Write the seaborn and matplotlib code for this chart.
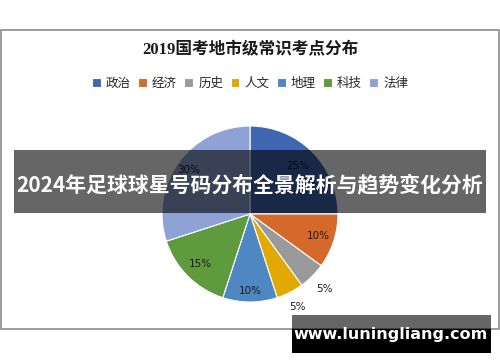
import matplotlib
matplotlib.use('Agg')
import matplotlib.pyplot as plt
import seaborn as sns
from matplotlib.patches import Rectangle

# chart data
categories = ['政治', '经济', '历史', '人文', '地理', '科技', '法律']
shares = [25, 10, 5, 5, 10, 15, 30]
slice_colors = ['#3F66B0', '#D4692B', '#9A9A9A', '#E2A900', '#4F87C3', '#5F9A3E', '#8EA2D6']
# how far each percent label sits from the centre (1 = rim)
label_radius = [0.77, 0.82, 1.2, 1.18, 0.87, 0.8, 0.86]

chart_title = '2019国考地市级常识考点分布'
banner_text = '2024年足球球星号码分布全景解析与趋势变化分析'
site_text = 'www.luningliang.com'

sns.set_theme(style="white")
plt.rcParams['font.family'] = ['Noto Sans CJK SC', 'DejaVu Sans']

W, H = 500, 362
fig = plt.figure(figsize=(W / 100, H / 100), dpi=100)
fig.patch.set_facecolor('white')

# background layer in pixel coordinates
bg = fig.add_axes([0, 0, 1, 1], zorder=0)
bg.set_xlim(0, W)
bg.set_ylim(H, 0)
bg.axis('off')
bg.add_patch(Rectangle((1, 30), 498, 299, fill=False, edgecolor='#8C8C8C', lw=1.2))
bg.text(250, 50, chart_title, ha='center', va='center', fontsize=12, fontweight='bold',
        family=['Liberation Serif', 'Noto Sans CJK SC'], color='#1A1A1A')

# pie
r = 88
cx, cy = 250, 214
pie_ax = fig.add_axes([(cx - r) / W, (H - cy - r) / H, 2 * r / W, 2 * r / H], zorder=1)
wedges, _, autotexts = pie_ax.pie(shares, colors=slice_colors, startangle=90, counterclock=False,
                                  autopct='%d%%', pctdistance=1.0,
                                  wedgeprops=dict(linewidth=0.8, edgecolor='white'),
                                  textprops=dict(fontsize=7.5, color='#1A1A1A', family='DejaVu Sans'))
for t, k in zip(autotexts, label_radius):
    x, y = t.get_position()
    t.set_position((x * k, y * k))
pie_ax.set_xlim(-1, 1)
pie_ax.set_ylim(-1, 1)
pie_ax.set_aspect('equal')
pie_ax.axis('off')

fig.legend(wedges, categories, loc='center', bbox_to_anchor=(0.5, 1 - 83 / H), ncol=7,
           frameon=False, fontsize=9, handlelength=0.7, handleheight=0.7,
           handletextpad=0.4, columnspacing=0.6, borderaxespad=0)

# overlay layer
top = fig.add_axes([0, 0, 1, 1], zorder=5)
top.set_xlim(0, W)
top.set_ylim(H, 0)
top.axis('off')
top.patch.set_alpha(0)
top.add_patch(Rectangle((14, 150), 472, 63, facecolor='black', alpha=0.6, lw=0))
top.text(250, 185, banner_text, ha='center', va='center', fontsize=15, fontweight='bold',
         color='white')
top.add_patch(Rectangle((292, 315), 199, 14, facecolor='black', alpha=0.6, lw=0))
top.add_patch(Rectangle((292, 329), 199, 24, facecolor='black', lw=0))
top.text(391, 334, site_text, ha='center', va='center', fontsize=11.5, fontweight='bold',
         color='white', family='DejaVu Sans')

fig.savefig('out.png', dpi=100)
